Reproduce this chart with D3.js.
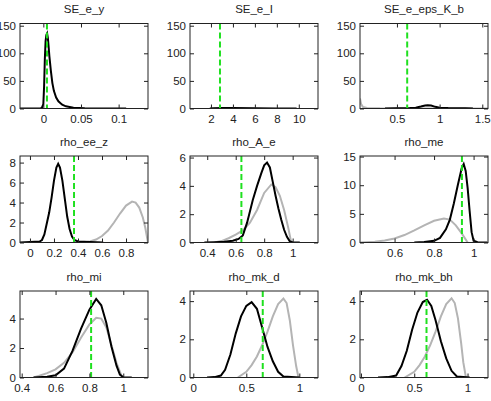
<!DOCTYPE html>
<html>
<head>
<meta charset="utf-8">
<script src="https://cdn.jsdelivr.net/npm/d3@7"></script>
<style>
	body { margin: 0; background: #fff; }
	svg { display: block; font-family: "Liberation Sans", Arial, sans-serif; }
</style>
</head>
<body>
<svg id="chart" width="491" height="401"></svg>
<script>
// panel titles, row by row
const titles = ["SE_e_y", "SE_e_I", "SE_e_eps_K_b", "rho_ee_z", "rho_A_e", "rho_me", "rho_mi", "rho_mk_d", "rho_mk_bh"];

const xDomains = [
	[-0.031, 0.139], [0.09, 11.75], [0.067, 1.567],
	[-0.083, 0.983], [0.279, 1.178], [0.425, 1.073],
	[0.39, 1.146], [-0.031, 1.176], [-0.009, 1.192]
];
const yMaxes = [154, 154, 154, 8.66, 6.11, 15.1, 5.87, 4.53, 4.53];

const xTicks = [
	[0, 0.05, 0.1], [2, 4, 6, 8, 10], [0.5, 1, 1.5],
	[0, 0.2, 0.4, 0.6, 0.8], [0.4, 0.6, 0.8, 1], [0.6, 0.8, 1],
	[0.4, 0.6, 0.8, 1], [0, 0.5, 1], [0, 0.5, 1]
];
const yTicks = [
	[0, 50, 100, 150], [0, 50, 100, 150], [0, 50, 100, 150],
	[0, 2, 4, 6, 8], [0, 2, 4, 6], [0, 5, 10, 15],
	[0, 2, 4], [0, 2, 4], [0, 2, 4]
];

// posterior mode (green dashed)
const modes = [0.0048, 2.82, 0.62, 0.367, 0.64, 0.941, 0.81, 0.655, 0.615];

// prior densities (grey), [x, density]
const prior_SE_e_y = [];
const prior_SE_e_I = [];
const prior_SE_e_eps_K_b = [[0.067, 18], [0.08, 8], [0.1, 3], [0.15, 1], [0.3, 0.3], [0.6, 0.1], [1.0, 0.05], [1.567, 0]];
const prior_rho_ee_z = [[0.45, 0], [0.5, 0.1], [0.55, 0.3], [0.6, 0.65], [0.65, 1.2], [0.7, 2.0], [0.75, 2.9], [0.8, 3.7], [0.85, 4.1], [0.88, 4.0], [0.91, 3.5], [0.94, 2.5], [0.96, 1.5], [0.983, 0]];
const prior_rho_A_e = [[0.45, 0], [0.5, 0.1], [0.55, 0.3], [0.6, 0.55], [0.65, 0.85], [0.7, 1.4], [0.75, 2.3], [0.8, 3.5], [0.85, 4.1], [0.88, 3.9], [0.91, 3.3], [0.94, 2.3], [0.97, 1.0], [0.99, 0]];
const prior_rho_me = [[0.425, 0], [0.5, 0.15], [0.55, 0.35], [0.6, 0.7], [0.65, 1.3], [0.7, 2.1], [0.75, 3.0], [0.8, 3.8], [0.85, 4.2], [0.88, 4.0], [0.91, 3.0], [0.94, 1.6], [0.97, 0]];
const prior_rho_mi = [[0.47, 0], [0.5, 0.1], [0.55, 0.3], [0.6, 0.55], [0.65, 1.0], [0.7, 1.7], [0.75, 2.7], [0.8, 3.6], [0.84, 4.05], [0.87, 4.0], [0.9, 3.4], [0.93, 2.2], [0.96, 1.0], [0.99, 0.1], [1.0, 0]];
const prior_rho_mk_d = [[0.42, 0], [0.5, 0.3], [0.55, 0.65], [0.6, 1.1], [0.65, 1.7], [0.7, 2.4], [0.75, 3.2], [0.8, 3.85], [0.85, 4.13], [0.88, 3.9], [0.91, 3.0], [0.94, 1.7], [0.97, 0.6], [0.99, 0.05], [1.0, 0]];
const prior_rho_mk_bh = [[0.41, 0], [0.5, 0.3], [0.55, 0.65], [0.6, 1.1], [0.65, 1.7], [0.7, 2.4], [0.75, 3.2], [0.8, 3.85], [0.85, 4.15], [0.88, 3.9], [0.91, 3.1], [0.94, 1.8], [0.96, 0.8], [0.985, 0]];

// posterior densities (black), [x, density]
const post_SE_e_y = [[-0.031, 0], [-0.004, 0], [-0.002, 1], [0.0, 8], [0.001, 40], [0.002, 90], [0.003, 122], [0.004, 133], [0.005, 136], [0.006, 128], [0.007, 112], [0.008, 95], [0.010, 68], [0.012, 46], [0.014, 32], [0.017, 20], [0.020, 13], [0.025, 7], [0.030, 4], [0.040, 1.5], [0.055, 0.5], [0.080, 0.2], [0.110, 0]];
const post_SE_e_I = [[1.9, 0], [2.2, 0.6], [3, 0.9], [4, 0.7], [6, 0.4], [8, 0.2], [9.8, 0]];
const post_SE_e_eps_K_b = [[0.36, 0], [0.5, 0.3], [0.65, 0.8], [0.72, 1.5], [0.78, 3.5], [0.83, 5.5], [0.86, 6], [0.9, 5.3], [0.95, 3], [1.0, 1.5], [1.1, 0.8], [1.2, 0.6], [1.3, 0.3], [1.39, 0]];
const post_rho_ee_z = [[-0.083, 0], [0.0, 0.05], [0.08, 0.1], [0.1, 0.25], [0.12, 0.8], [0.14, 1.9], [0.16, 3.0], [0.18, 4.5], [0.2, 6.2], [0.22, 7.5], [0.235, 7.88], [0.25, 7.5], [0.27, 6.2], [0.29, 4.4], [0.31, 2.6], [0.33, 1.35], [0.35, 0.6], [0.37, 0.25], [0.4, 0.1], [0.5, 0.05], [0.61, 0]];
const post_rho_A_e = [[0.38, 0], [0.45, 0.02], [0.52, 0.05], [0.58, 0.12], [0.62, 0.25], [0.65, 0.5], [0.68, 1.4], [0.72, 3.0], [0.75, 4.0], [0.78, 4.9], [0.8, 5.45], [0.82, 5.65], [0.84, 5.3], [0.86, 4.3], [0.88, 3.3], [0.9, 2.4], [0.92, 1.6], [0.94, 0.9], [0.96, 0.4], [0.98, 0.08], [1.0, 0.02], [1.05, 0]];
const post_rho_me = [[0.7, 0], [0.75, 0.1], [0.8, 0.3], [0.83, 0.8], [0.86, 2.3], [0.88, 4.0], [0.9, 6.8], [0.92, 10.0], [0.94, 13.0], [0.95, 13.7], [0.96, 12.5], [0.97, 9.5], [0.98, 5.5], [0.99, 1.8], [1.0, 0.3], [1.02, 0.05], [1.07, 0]];
const post_rho_mi = [[0.47, 0], [0.55, 0.05], [0.6, 0.15], [0.65, 0.6], [0.7, 1.8], [0.75, 3.3], [0.8, 4.6], [0.84, 5.33], [0.87, 4.9], [0.9, 3.7], [0.93, 2.1], [0.96, 0.8], [0.98, 0.2], [1.0, 0.02], [1.05, 0]];
const post_rho_mk_d = [[0.13, 0], [0.2, 0.02], [0.26, 0.1], [0.3, 0.4], [0.35, 1.2], [0.4, 2.3], [0.45, 3.2], [0.5, 3.75], [0.55, 3.95], [0.6, 3.6], [0.65, 2.6], [0.7, 1.6], [0.75, 0.85], [0.8, 0.3], [0.85, 0.05], [1.0, 0]];
const post_rho_mk_bh = [[0.16, 0], [0.25, 0.02], [0.33, 0.1], [0.38, 0.6], [0.43, 1.4], [0.48, 2.5], [0.53, 3.4], [0.58, 3.95], [0.62, 4.07], [0.66, 3.75], [0.7, 3.0], [0.75, 1.9], [0.8, 1.0], [0.85, 0.35], [0.9, 0.05], [1.02, 0]];

const priors = [prior_SE_e_y, prior_SE_e_I, prior_SE_e_eps_K_b, prior_rho_ee_z, prior_rho_A_e, prior_rho_me, prior_rho_mi, prior_rho_mk_d, prior_rho_mk_bh];
const posteriors = [post_SE_e_y, post_SE_e_I, post_SE_e_eps_K_b, post_rho_ee_z, post_rho_A_e, post_rho_me, post_rho_mi, post_rho_mk_d, post_rho_mk_bh];

// layout of the 3x3 grid
const colLeft = [20, 190, 360];
const rowTop = [23.5, 156, 291];
const rowHeight = [85, 86.5, 86.5];
const boxWidth = 128;
const tickLen = 4;

const svg = d3.select("#chart");

titles.forEach((title, i) => {
	const row = Math.floor(i / 3);
	const col = i % 3;
	const w = boxWidth;
	const h = rowHeight[row];

	const g = svg.append("g")
	.attr("transform", `translate(${colLeft[col]}, ${rowTop[row]})`);

	const x = d3.scaleLinear().domain(xDomains[i]).range([0, w]);
	const y = d3.scaleLinear().domain([0, yMaxes[i]]).range([h, 0]);

	g.append("clipPath")
	.attr("id", `clip${i}`)
	.append("rect")
	.attr("width", w)
	.attr("height", h);

	const line = d3.line()
	.x(([px]) => x(px))
	.y(([, py]) => y(py));

	const plot = g.append("g").attr("clip-path", `url(#clip${i})`);

	plot.append("path")
	.datum(priors[i])
	.attr("d", line)
	.attr("fill", "none")
	.attr("stroke", "#b4b4b4")
	.attr("stroke-width", 2);

	plot.append("path")
	.datum(posteriors[i])
	.attr("d", line)
	.attr("fill", "none")
	.attr("stroke", "#000")
	.attr("stroke-width", 2);

	plot.append("line")
	.attr("x1", x(modes[i]))
	.attr("x2", x(modes[i]))
	.attr("y1", 0)
	.attr("y2", h)
	.attr("stroke", "#1fe01f")
	.attr("stroke-width", 2)
	.attr("stroke-dasharray", "6,3");

	// matlab style axes: inward ticks on all four sides
	const fmt = d3.format("~g");

	g.append("g")
	.attr("transform", `translate(0, ${h})`)
	.call(d3.axisBottom(x).tickValues(xTicks[i]).tickSize(-tickLen).tickPadding(6).tickFormat(fmt));

	g.append("g")
	.call(d3.axisTop(x).tickValues(xTicks[i]).tickSize(-tickLen).tickFormat(""));

	g.append("g")
	.call(d3.axisLeft(y).tickValues(yTicks[i]).tickSize(-tickLen).tickPadding(4).tickFormat(fmt));

	g.append("g")
	.attr("transform", `translate(${w}, 0)`)
	.call(d3.axisRight(y).tickValues(yTicks[i]).tickSize(-tickLen).tickFormat(""));

	g.selectAll(".domain").remove();
	g.selectAll(".tick line").attr("stroke", "#222");
	g.selectAll(".tick text")
	.attr("font-family", "Liberation Sans, Arial, sans-serif")
	.attr("font-size", "11.5px")
	.attr("fill", "#222");

	g.append("rect")
	.attr("width", w)
	.attr("height", h)
	.attr("fill", "none")
	.attr("stroke", "#222")
	.attr("stroke-width", 1);

	g.append("text")
	.attr("x", w / 2)
	.attr("y", -10.5)
	.attr("text-anchor", "middle")
	.attr("font-size", "11.5px")
	.attr("fill", "#222")
	.text(title);
});
</script>
</body>
</html>
